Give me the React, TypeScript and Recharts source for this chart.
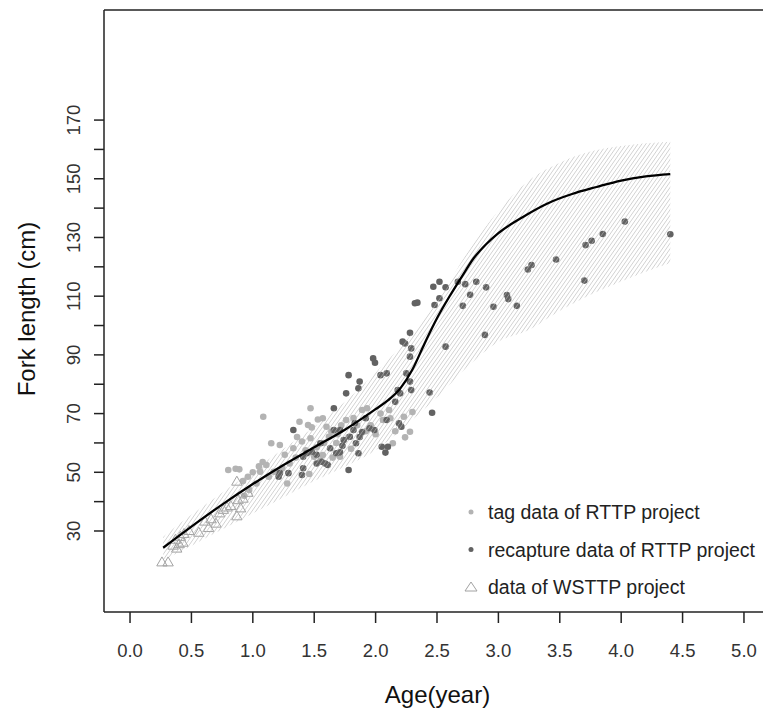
import React from 'react';
import { ComposedChart, XAxis, YAxis, Scatter, Line, Area, ReferenceLine } from 'recharts';

const FONT = '"Liberation Sans", Arial, Helvetica, sans-serif';

// ---------- data ----------
const xTicks = [0, 0.5, 1.0, 1.5, 2.0, 2.5, 3.0, 3.5, 4.0, 4.5, 5.0];
const yTicks = [30, 40, 50, 60, 70, 80, 90, 100, 110, 120, 130, 140, 150, 160, 170];
const yLabelled = [30, 50, 70, 90, 110, 130, 150, 170];

const curveAge = [0.27, 0.5, 0.75, 1.0, 1.25, 1.5, 1.75, 2.0, 2.1, 2.2, 2.3, 2.4, 2.5, 2.6, 2.7, 2.8, 2.9, 3.0, 3.2, 3.4, 3.6, 3.8, 4.0, 4.2, 4.4];
const curveLength = [24.3, 31.5, 39, 46, 52.5, 58.5, 64.5, 71.5, 74.5, 78.5, 85, 94, 102.5, 109.8, 116.5, 123, 127.7, 131.5, 137, 141.6, 144.8, 147.2, 149.4, 150.8, 151.6];

const bandAge = [0.27, 0.5, 0.75, 1.0, 1.25, 1.5, 1.75, 2.0, 2.25, 2.5, 2.75, 3.0, 3.25, 3.5, 3.75, 4.0, 4.2, 4.4];
const bandUpper = [28, 35.5, 43, 50.5, 58, 65.5, 74, 84, 95, 108, 125, 139, 149.5, 155.5, 159.3, 161.2, 162.1, 162.6];
const bandLower = [20, 25, 30.5, 36, 41.5, 47, 52, 57.5, 66, 75.5, 86, 94.5, 98.5, 105, 110.5, 115, 118.3, 121.3];

const tagData: [number, number][] = [
  [0.80, 50.8], [0.86, 51.2], [0.89, 51], [0.92, 47], [0.93, 42], [0.96, 48.5], [0.97, 44], [1.00, 50],
  [1.03, 46.2], [1.05, 52], [1.06, 50.2], [1.08, 53.5], [1.11, 52.5], [1.085, 68.9], [1.13, 48.5],
  [1.15, 59.9], [1.17, 50.2], [1.19, 50.2], [1.22, 59.3], [1.24, 51.5], [1.26, 56], [1.28, 46.2],
  [1.30, 53], [1.33, 58.2], [1.35, 55], [1.36, 62], [1.38, 67.2], [1.40, 60.5], [1.43, 57.5],
  [1.45, 66.1], [1.46, 49.4], [1.47, 71.8], [1.47, 61.6], [1.48, 65.3], [1.50, 55.3], [1.52, 58.5],
  [1.53, 68], [1.55, 54], [1.57, 55.9], [1.57, 68.4], [1.58, 60], [1.60, 65.5], [1.62, 62.1],
  [1.64, 63.8], [1.65, 55], [1.68, 60], [1.69, 63], [1.71, 55.3], [1.72, 66], [1.76, 67.8],
  [1.78, 62], [1.80, 58], [1.82, 68.5], [1.85, 66], [1.89, 71.2], [1.92, 64], [1.93, 71.8],
  [1.96, 66], [2.00, 63], [2.04, 70], [2.06, 67.8], [2.11, 71.2], [2.12, 68.4], [2.14, 59.9],
  [2.16, 64], [2.23, 68.9], [2.24, 61.9], [2.28, 63.8], [2.30, 70.5],
];

const recaptureData: [number, number][] = [
  [1.21, 48.5], [1.22, 49.7], [1.29, 49.7], [1.33, 64.4], [1.40, 49.1], [1.41, 51.4], [1.41, 55.3],
  [1.44, 56.5], [1.48, 57], [1.52, 53], [1.52, 56], [1.55, 59.9], [1.56, 53.6], [1.59, 53],
  [1.61, 52.5], [1.63, 58.2], [1.66, 71.8], [1.66, 64.4], [1.68, 56.5], [1.71, 56.8], [1.71, 64.4],
  [1.73, 59], [1.74, 61], [1.76, 76.9], [1.78, 83.1], [1.78, 50.8], [1.79, 62.1], [1.82, 64.4],
  [1.83, 66.7], [1.84, 59.9], [1.86, 56.5], [1.86, 78.6], [1.87, 80.9], [1.87, 62], [1.89, 63.7],
  [1.92, 68.4], [1.95, 65], [1.98, 88.8], [1.995, 87.3], [1.99, 64.4], [2.04, 83.1], [2.05, 58.7],
  [2.08, 56.7], [2.10, 58.7], [2.09, 83.7], [2.09, 67.8], [2.16, 74], [2.18, 78], [2.19, 66.7],
  [2.21, 65.5], [2.20, 76.9], [2.22, 94.5], [2.24, 93.9], [2.25, 83.7], [2.28, 80.9], [2.28, 89.4],
  [2.28, 97.5], [2.29, 92.2], [2.29, 78], [2.32, 107.6], [2.34, 107.8], [2.44, 77.2], [2.46, 70.3],
  [2.47, 113.2], [2.48, 107], [2.52, 109.3], [2.52, 114.9], [2.57, 113], [2.57, 92.8], [2.67, 114.9],
  [2.71, 106.7], [2.73, 114.1], [2.77, 110.5], [2.82, 114.9], [2.89, 96.8], [2.90, 113], [2.96, 106.4],
  [3.07, 110.4], [3.08, 109], [3.15, 106.7], [3.24, 119.1], [3.27, 120.6], [3.47, 122.5], [3.70, 115.3],
  [3.71, 127.4], [3.76, 128.9], [3.85, 131.2], [4.03, 135.4], [4.40, 131.1],
];

const wsttpData: [number, number][] = [
  [0.26, 19.3], [0.31, 19.3], [0.35, 25], [0.37, 27], [0.38, 24], [0.40, 25.5], [0.41, 28], [0.43, 26],
  [0.44, 29], [0.48, 30], [0.56, 29.4], [0.61, 33.2], [0.64, 31], [0.66, 34], [0.70, 32.5], [0.73, 36],
  [0.76, 37.2], [0.79, 38], [0.82, 38.5], [0.87, 35], [0.88, 40.5], [0.90, 37.7], [0.92, 41],
  [0.87, 46.8], [0.96, 43],
];

const legendItems = [
  { label: 'tag data of RTTP project', kind: 'tag' },
  { label: 'recapture data of RTTP project', kind: 'recap' },
  { label: 'data of WSTTP project', kind: 'wsttp' },
];

// ---------- styles ----------
const TAG_COLOR = '#b3b3b3';
const RECAP_COLOR = '#626262';
const WSTTP_COLOR = '#a2a2a2';
const AXIS_COLOR = '#222';

const toPoints = (arr: [number, number][]) => arr.map(([x, y]) => ({ x, y }));
const curveRows = curveAge.map((x, i) => ({ x, y: curveLength[i] }));
const bandRows = bandAge.map((x, i) => ({ x, range: [bandLower[i], bandUpper[i]] }));

const dotShape = (color: string, r: number) => (p: any) => (
  <circle cx={p.cx} cy={p.cy} r={r} fill={color} />
);
const triShape = (p: any) => (
  <path
    d={`M${p.cx},${p.cy - 5.5}L${p.cx + 5.2},${p.cy + 3.5}L${p.cx - 5.2},${p.cy + 3.5}Z`}
    fill="none"
    stroke={WSTTP_COLOR}
    strokeWidth={1}
  />
);

const XTick = (p: any) => (
  <text x={p.x} y={657} textAnchor="middle" fontSize={18.5} fontFamily={FONT} fill="#333">
    {Number(p.payload.value).toFixed(1)}
  </text>
);

const YTick = (p: any) => {
  if (!yLabelled.includes(p.payload.value)) return <g />;
  const bx = 80;
  return (
    <text
      x={bx}
      y={p.y}
      transform={`rotate(-90, ${bx}, ${p.y})`}
      textAnchor="middle"
      fontSize={18.5}
      fontFamily={FONT}
      fill="#333"
    >
      {p.payload.value}
    </text>
  );
};

export default function App() {
  return (
    <div style={{ position: 'fixed', left: 0, top: 0, width: 763, height: 713, background: '#fff' }}>
      <ComposedChart
        width={763}
        height={713}
        margin={{ top: 10, right: 0, bottom: 41, left: 24 }}
      >
        <defs>
          <pattern
            id="hatch"
            patternUnits="userSpaceOnUse"
            width={3.2}
            height={3.2}
            patternTransform="rotate(35)"
          >
            <line x1={0} y1={0} x2={0} y2={3.2} stroke="#b5b5b5" strokeWidth={1} />
          </pattern>
        </defs>
        <XAxis
          type="number"
          dataKey="x"
          domain={[-0.212, 5.155]}
          ticks={xTicks}
          interval={0}
          allowDataOverflow
          height={60}
          tickSize={11}
          axisLine={{ stroke: AXIS_COLOR, strokeWidth: 1.5 }}
          tickLine={{ stroke: AXIS_COLOR, strokeWidth: 1.5 }}
          tick={XTick}
        />
        <YAxis
          type="number"
          dataKey="y"
          domain={[2.4, 207.5]}
          ticks={yTicks}
          interval={0}
          allowDataOverflow
          width={80}
          tickSize={10}
          axisLine={{ stroke: AXIS_COLOR, strokeWidth: 1.5 }}
          tickLine={{ stroke: AXIS_COLOR, strokeWidth: 1.5 }}
          tick={YTick}
        />
        <ReferenceLine y={207.5} stroke={AXIS_COLOR} strokeWidth={1.5} />
        <Scatter
          name="tag data of RTTP project"
          data={toPoints(tagData)}
          dataKey="y"
          shape={dotShape(TAG_COLOR, 3.3)}
          isAnimationActive={false}
        />
        <Scatter
          name="recapture data of RTTP project"
          data={toPoints(recaptureData)}
          dataKey="y"
          shape={dotShape(RECAP_COLOR, 3.3)}
          isAnimationActive={false}
        />
        <Scatter
          name="data of WSTTP project"
          data={toPoints(wsttpData)}
          dataKey="y"
          shape={triShape}
          isAnimationActive={false}
        />
        <Area
          data={bandRows}
          dataKey="range"
          type="monotone"
          stroke="none"
          fill="url(#hatch)"
          fillOpacity={1}
          isAnimationActive={false}
          activeDot={false}
          {...({ zIndex: 650 } as any)}
        />
        <Line
          data={curveRows}
          dataKey="y"
          type="monotone"
          stroke="#000"
          strokeWidth={2.3}
          dot={false}
          activeDot={false}
          isAnimationActive={false}
          {...({ zIndex: 700 } as any)}
        />
        <g>
          {legendItems.map((it, i) => {
            const cy = 512 + i * 37.5;
            return (
              <g key={it.label}>
                {it.kind === 'tag' && <circle cx={471} cy={cy} r={2.5} fill={TAG_COLOR} />}
                {it.kind === 'recap' && <circle cx={471} cy={cy} r={2.5} fill={RECAP_COLOR} />}
                {it.kind === 'wsttp' && (
                  <path
                    d={`M471,${cy - 5}L477,${cy + 4}L465,${cy + 4}Z`}
                    fill="none"
                    stroke={WSTTP_COLOR}
                    strokeWidth={1}
                  />
                )}
                <text x={488} y={cy + 7} fontSize={19.5} fontFamily={FONT} fill="#222">
                  {it.label}
                </text>
              </g>
            );
          })}
        </g>
        <text x={437.5} y={703} textAnchor="middle" fontSize={24} fontFamily={FONT} fill="#111">
          Age(year)
        </text>
        <text
          x={35}
          y={309}
          transform="rotate(-90, 35, 309)"
          textAnchor="middle"
          fontSize={24}
          fontFamily={FONT}
          fill="#111"
        >
          Fork length (cm)
        </text>
      </ComposedChart>
    </div>
  );
}
